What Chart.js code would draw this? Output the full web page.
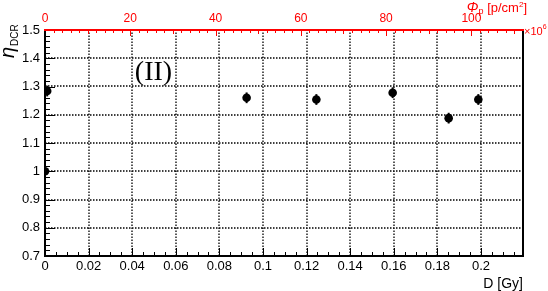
<!DOCTYPE html>
<html><head><meta charset="utf-8">
<script src="https://cdn.jsdelivr.net/npm/chart.js@4/dist/chart.umd.min.js"></script>
<style>html,body{margin:0;padding:0;background:#fff;overflow:hidden}</style>
</head><body>
<canvas id="c" width="548" height="291"></canvas>
<script>
// ---- data ----
const doseGy  = [0, 0.001, 0.0925, 0.1245, 0.1595, 0.1852, 0.1988];
const etaDCR  = [1.000, 1.284, 1.260, 1.254, 1.278, 1.188, 1.254];
const etaErr  = [0.010, 0.019, 0.019, 0.019, 0.019, 0.019, 0.019];
const doseTicks = [0, 0.02, 0.04, 0.06, 0.08, 0.1, 0.12, 0.14, 0.16, 0.18, 0.2];
const etaTicks  = [0.7, 0.8, 0.9, 1.0, 1.1, 1.2, 1.3, 1.4, 1.5];
const fluenceTicks = [0, 20, 40, 60, 80, 100];
const doseRange = [0, 0.2193];
const etaRange = [0.7, 1.5];
const fluenceRange = [0, 112.1];

const RED = '#ff0000';
const SANS = '"Liberation Sans", Arial, sans-serif';

const fmt = v => String(+(+v).toFixed(3));

const decor = {
  id: 'decor',
  beforeDatasetsDraw(chart) {
    const {ctx, chartArea: a, scales} = chart;
    const xs = scales.x, ys = scales.y, x2 = scales.x2;
    ctx.save();
    // dotted grid
    ctx.strokeStyle = '#000';
    ctx.lineWidth = 1.3;
    ctx.setLineDash([1.5, 1.5]);
    ctx.beginPath();
    doseTicks.forEach(v => {
      const px = Math.round(xs.getPixelForValue(v));
      ctx.moveTo(px, a.bottom); ctx.lineTo(px, a.top);
    });
    etaTicks.forEach(v => {
      const py = Math.round(ys.getPixelForValue(v));
      ctx.moveTo(a.left, py); ctx.lineTo(a.right, py);
    });
    ctx.stroke();
    ctx.setLineDash([]);
    // error bars
    ctx.strokeStyle = '#000'; ctx.lineWidth = 2;
    doseGy.forEach((d, i) => {
      const px = xs.getPixelForValue(d);
      ctx.beginPath();
      ctx.moveTo(px, ys.getPixelForValue(etaDCR[i] - etaErr[i]));
      ctx.lineTo(px, ys.getPixelForValue(etaDCR[i] + etaErr[i]));
      ctx.stroke();
    });
    // tick marks
    ctx.lineWidth = 1;
    ctx.strokeStyle = '#000';
    ctx.beginPath();
    for (let k = 0; k <= 43; k++) {           // bottom: minor every 0.005
      const v = k * 0.005;
      if (v > doseRange[1]) break;
      const px = Math.round(xs.getPixelForValue(v)) + 0.5;
      const len = (k % 4 === 0) ? 8 : 4;
      ctx.moveTo(px, a.bottom); ctx.lineTo(px, a.bottom - len);
    }
    for (let k = 0; k <= 40; k++) {           // left: minor every 0.02
      const v = etaRange[0] + k * 0.02;
      const py = Math.round(ys.getPixelForValue(v)) + 0.5;
      const len = (k % 5 === 0) ? 10 : 5;
      ctx.moveTo(a.left, py); ctx.lineTo(a.left + len, py);
    }
    ctx.stroke();
    ctx.strokeStyle = RED;
    ctx.beginPath();
    for (let k = 0; k <= 56; k++) {           // top: every 2
      const v = k * 2;
      if (v > fluenceRange[1]) break;
      const px = Math.round(x2.getPixelForValue(v)) + 0.5;
      const len = (v % 20 === 0) ? 6 : ((v % 10 === 0) ? 4 : 3);
      ctx.moveTo(px, a.top); ctx.lineTo(px, a.top + len);
    }
    ctx.stroke();
    // frame
    ctx.lineWidth = 2;
    ctx.strokeStyle = '#000';
    ctx.beginPath();
    ctx.moveTo(a.left, a.top); ctx.lineTo(a.left, a.bottom); ctx.lineTo(a.right, a.bottom); ctx.lineTo(a.right, a.top);
    ctx.stroke();
    ctx.strokeStyle = RED;
    ctx.beginPath();
    ctx.moveTo(a.left - 1, a.top); ctx.lineTo(a.right + 1, a.top);
    ctx.stroke();
    ctx.restore();
  },
  afterDraw(chart) {
    const {ctx, chartArea: a} = chart;
    ctx.save();
    ctx.textBaseline = 'alphabetic';
    // bottom title
    ctx.fillStyle = '#000';
    ctx.font = '14px ' + SANS;
    ctx.textAlign = 'right';
    ctx.fillText('D [Gy]', a.right, 288);
    // (II)
    ctx.font = '28px "Liberation Serif", "Times New Roman", serif';
    ctx.textAlign = 'center';
    ctx.fillText('(II)', 153.5, 80);
    // y title eta_DCR rotated
    ctx.save();
    ctx.translate(14, 58);
    ctx.rotate(-Math.PI / 2);
    ctx.textAlign = 'left';
    ctx.font = 'italic 20px ' + SANS;
    ctx.fillText('η', 0, 0);
    const we = ctx.measureText('η').width;
    ctx.font = '10px ' + SANS;
    ctx.fillText('DCR', we + 1, 4);
    ctx.restore();
    // top title Phi_p [p/cm^2]
    ctx.fillStyle = RED;
    ctx.textAlign = 'left';
    const parts = [
      ['Φ', 'italic 14px ' + SANS, 0],
      ['p', '9px ' + SANS, 2],
      [' [p/cm', '13px ' + SANS, 0],
      ['2', '8px ' + SANS, -5],
      [']', '13px ' + SANS, 0]
    ];
    let tw = 0;
    parts.forEach(p => { ctx.font = p[1]; tw += ctx.measureText(p[0]).width; });
    let cx = 527 - tw;
    parts.forEach(p => { ctx.font = p[1]; ctx.fillText(p[0], cx, 12 + p[2]); cx += ctx.measureText(p[0]).width; });
    // x10^6
    ctx.font = '11px ' + SANS;
    ctx.fillText('×10', 524, 35);
    const w10 = ctx.measureText('×10').width;
    ctx.font = '7px ' + SANS;
    ctx.fillText('6', 524 + w10, 29);
    ctx.restore();
  }
};

new Chart(document.getElementById('c'), {
  type: 'scatter',
  data: {
    datasets: [{
      data: doseGy.map((d, i) => ({x: d, y: etaDCR[i]})),
      backgroundColor: '#000',
      borderColor: '#000',
      borderWidth: 0,
      pointRadius: 4.3,
      pointHoverRadius: 4.3,
      xAxisID: 'x', yAxisID: 'y'
    }]
  },
  options: {
    responsive: false,
    animation: false,
    events: [],
    layout: {padding: {left: 0, right: 25, top: 0, bottom: 0}},
    plugins: {legend: {display: false}, tooltip: {enabled: false}},
    scales: {
      x: {
        type: 'linear', position: 'bottom', min: doseRange[0], max: doseRange[1],
        afterBuildTicks: s => { s.ticks = doseTicks.map(v => ({value: v})); },
        afterFit: s => { s.height = 35; },
        ticks: {callback: v => fmt(v), color: '#000', font: {family: SANS, size: 13}, padding: 3, maxRotation: 0, autoSkip: false},
        grid: {display: false, drawTicks: false},
        border: {display: false}
      },
      y: {
        type: 'linear', position: 'left', min: etaRange[0], max: etaRange[1],
        afterBuildTicks: s => { s.ticks = etaTicks.map(v => ({value: v})); },
        afterFit: s => { s.width = 45; },
        ticks: {callback: v => fmt(v), color: '#000', font: {family: SANS, size: 13}, padding: 5, autoSkip: false},
        grid: {display: false, drawTicks: false},
        border: {display: false}
      },
      x2: {
        type: 'linear', position: 'top', min: fluenceRange[0], max: fluenceRange[1],
        afterBuildTicks: s => { s.ticks = fluenceTicks.map(v => ({value: v})); },
        afterFit: s => { s.height = 30; },
        ticks: {callback: v => fmt(v), color: RED, font: {family: SANS, size: 12}, padding: 4, maxRotation: 0, autoSkip: false},
        grid: {display: false, drawTicks: false},
        border: {display: false}
      }
    }
  },
  plugins: [decor]
});
</script>
</body></html>
